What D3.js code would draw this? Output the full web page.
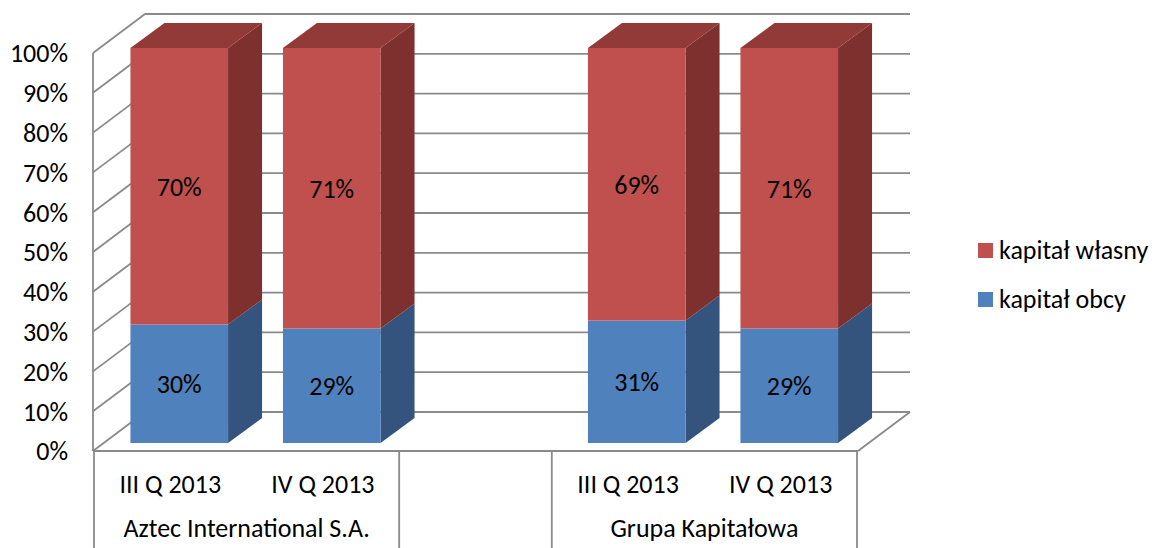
<!DOCTYPE html>
<meta charset="utf-8">
<style>
body { margin: 0; background: #fff; }
svg { font-family: "Carlito", "Open Sans", sans-serif; font-size: 26px; }
.grid line { stroke: #8a8a8a; stroke-width: 1.8px; }
.tick-label { fill: #000; text-anchor: end; }
.cat-label { fill: #000; text-anchor: middle; }
.val-label { fill: #000; text-anchor: middle; }
.legend text { fill: #000; }
</style>
<svg></svg>
<script src="https://d3js.org/d3.v7.min.js"></script>
<script>

// slots along the category axis (middle slot is an empty spacer)
var quarters = ['III Q 2013', 'IV Q 2013', '', 'III Q 2013', 'IV Q 2013'];
var groups = ['Aztec International S.A.', '', 'Grupa Kapitałowa'];
var groupSpan = [2, 1, 2];
var kapitalObcy = [0.30, 0.29, null, 0.31, 0.29];
var kapitalWlasny = [0.70, 0.71, null, 0.69, 0.71];
var yTicks = [0, 0.1, 0.2, 0.3, 0.4, 0.5, 0.6, 0.7, 0.8, 0.9, 1];
var seriesNames = ['kapitał własny', 'kapitał obcy'];

var colors = {
  obcy: { front: '#4f81bd', side: '#34547e', top: '#3f6797' },
  wlasny: { front: '#c0504d', side: '#7e302f', top: '#923a38' }
};

var width = 1155, height = 548;

// wall depth offset and bar depth offset
var wallDx = 52, wallDy = -39;
var barDx = 34, barDy = -25;

var slots = d3.range(quarters.length);

var yFront = d3.scaleLinear().domain([0, 1]).range([451, 53]);
var yBar = d3.scaleLinear().domain([0, 1]).range([443, 48]);

var xAxisScale = d3.scaleBand().domain(slots).range([94, 857]);
var xBar = d3.scaleBand().domain(slots).range([103, 865.5])
  .paddingInner(0.36).paddingOuter(0.18);

var svg = d3.select('svg')
  .attr('width', width)
  .attr('height', height);

// walls: left wall diagonals + back wall gridlines
var grid = svg.append('g').attr('class', 'grid');

grid.selectAll('.wall')
  .data(yTicks)
  .enter().append('line')
  .attr('x1', 93)
  .attr('y1', function (d) { return yFront(d); })
  .attr('x2', 93 + wallDx)
  .attr('y2', function (d) { return yFront(d) + wallDy; });

grid.selectAll('.back')
  .data(yTicks)
  .enter().append('line')
  .attr('x1', 93 + wallDx)
  .attr('y1', function (d) { return yFront(d) + wallDy; })
  .attr('x2', 858 + wallDx)
  .attr('y2', function (d) { return yFront(d) + wallDy; });

// left wall front edge
grid.append('line')
  .attr('x1', 93).attr('y1', yFront(0))
  .attr('x2', 93).attr('y2', yFront(1));

// floor front and right edges
grid.append('line')
  .attr('x1', 93).attr('y1', yFront(0))
  .attr('x2', 858).attr('y2', yFront(0));
grid.append('line')
  .attr('x1', 858).attr('y1', yFront(0))
  .attr('x2', 858 + wallDx).attr('y2', yFront(0) + wallDy);

// category axis dividers
var dividers = [0];
groupSpan.reduce(function (acc, s) { dividers.push(acc + s); return acc + s; }, 0);
grid.selectAll('.div')
  .data(dividers)
  .enter().append('line')
  .attr('x1', function (d) { return d < slots.length ? xAxisScale(d) : xAxisScale.range()[1]; })
  .attr('x2', function (d) { return d < slots.length ? xAxisScale(d) : xAxisScale.range()[1]; })
  .attr('y1', yFront(0))
  .attr('y2', height);

// y tick labels
svg.append('g').selectAll('text')
  .data(yTicks)
  .enter().append('text')
  .attr('class', 'tick-label')
  .attr('x', 68)
  .attr('y', function (d) { return yFront(d) + 1; })
  .attr('dy', '0.32em')
  .text(function (d) { return Math.round(d * 100) + '%'; });

// category labels
svg.append('g').selectAll('text')
  .data(slots)
  .enter().append('text')
  .attr('class', 'cat-label')
  .attr('x', function (d) { return xAxisScale(d) + xAxisScale.bandwidth() / 2; })
  .attr('y', 493)
  .text(function (d) { return quarters[d]; });

var start = 0;
var groupPos = groupSpan.map(function (s) {
  var c = (xAxisScale(start) + xAxisScale(start + s - 1) + xAxisScale.bandwidth()) / 2;
  start += s;
  return c;
});
svg.append('g').selectAll('text')
  .data(groups)
  .enter().append('text')
  .attr('class', 'cat-label')
  .attr('x', function (d, i) { return groupPos[i]; })
  .attr('y', 537)
  .text(function (d) { return d; });

// bars
function box(g, x0, w, v0, v1, c, withTop) {
  var yb = yBar(v0), yt = yBar(v1);
  // side face
  g.append('path')
    .attr('d', 'M' + (x0 + w) + ',' + yb +
      'L' + (x0 + w + barDx) + ',' + (yb + barDy) +
      'L' + (x0 + w + barDx) + ',' + (yt + barDy) +
      'L' + (x0 + w) + ',' + yt + 'Z')
    .attr('fill', c.side);
  if (withTop) {
    g.append('path')
      .attr('d', 'M' + x0 + ',' + yt +
        'L' + (x0 + barDx) + ',' + (yt + barDy) +
        'L' + (x0 + w + barDx) + ',' + (yt + barDy) +
        'L' + (x0 + w) + ',' + yt + 'Z')
      .attr('fill', c.top);
  }
  g.append('rect')
    .attr('x', x0).attr('y', yt)
    .attr('width', w).attr('height', yb - yt)
    .attr('fill', c.front);
}

var bars = svg.append('g');
slots.forEach(function (i) {
  if (kapitalObcy[i] == null) return;
  var g = bars.append('g');
  var x0 = xBar(i), w = xBar.bandwidth();
  var a = kapitalObcy[i], b = kapitalWlasny[i];
  box(g, x0, w, 0, a, colors.obcy, false);
  box(g, x0, w, a, a + b, colors.wlasny, true);

  g.append('text').attr('class', 'val-label')
    .attr('x', x0 + w / 2)
    .attr('y', (yBar(0) + yBar(a)) / 2 + 1)
    .attr('dy', '0.32em')
    .text(Math.round(a * 100) + '%');
  g.append('text').attr('class', 'val-label')
    .attr('x', x0 + w / 2)
    .attr('y', (yBar(a) + yBar(a + b)) / 2 + 1)
    .attr('dy', '0.32em')
    .text(Math.round(b * 100) + '%');
});

// legend
var legend = svg.append('g').attr('class', 'legend');
var legendColors = [colors.wlasny.front, colors.obcy.front];
seriesNames.forEach(function (name, i) {
  var y = 243 + i * 49;
  legend.append('rect')
    .attr('x', 978).attr('y', y)
    .attr('width', 15).attr('height', 15)
    .attr('fill', legendColors[i]);
  legend.append('text')
    .attr('x', 999).attr('y', y + 8)
    .attr('dy', '0.32em')
    .text(name);
});

</script>
